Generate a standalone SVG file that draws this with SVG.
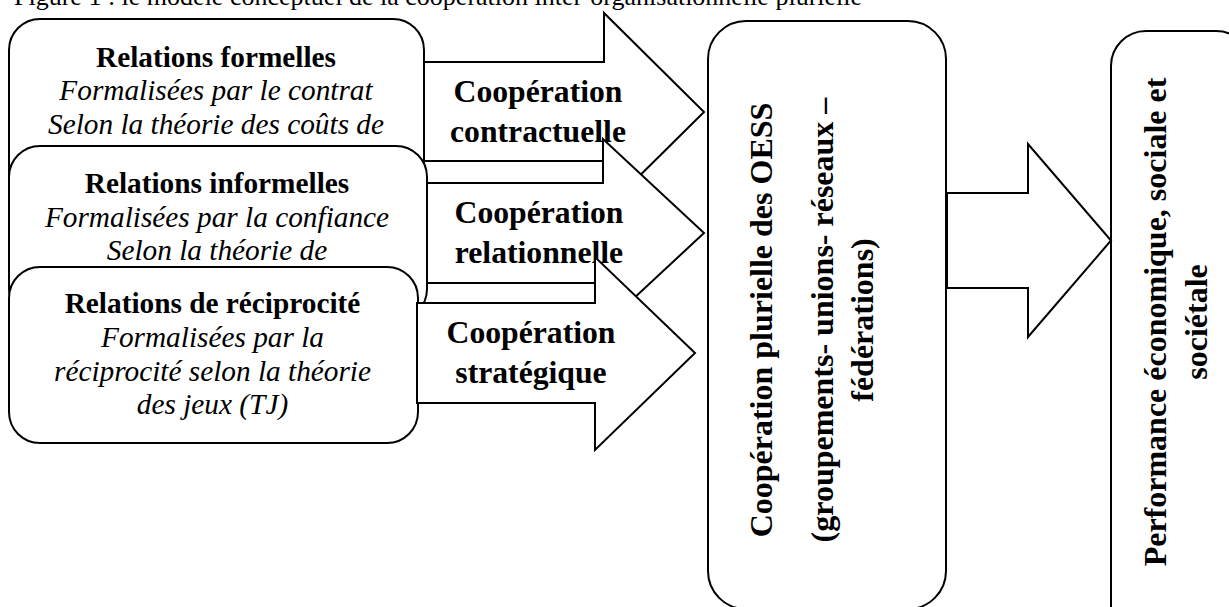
<svg xmlns="http://www.w3.org/2000/svg" width="1229" height="607" viewBox="0 0 1229 607">
<style>
.t{font-family:"Liberation Serif","Times New Roman",serif;fill:#000}
.b{font-weight:bold}
.i{font-style:italic}
.box{fill:#fff;stroke:#000;stroke-width:2}
.arr{fill:#fff;stroke:#000;stroke-width:2;stroke-linejoin:miter}
.s29{font-size:29.3px}
.s31{font-size:31.7px}
.s32{font-size:32px}
</style>
<rect width="1229" height="607" fill="#fff"/>
<text class="t" x="14" y="5" font-size="26px">Figure 1 : le modèle conceptuel de la coopération inter-organisationnelle plurielle</text>

<g id="box-formelles">
<rect class="box" x="9" y="19" width="415" height="190" rx="31"/>
<text class="t b s29" x="216" y="66.7" text-anchor="middle">Relations formelles</text>
<text class="t i s29" x="216" y="100" text-anchor="middle">Formalisées par le contrat</text>
<text class="t i s29" x="216" y="134" text-anchor="middle">Selon la théorie des coûts de</text>
</g>

<g id="box-informelles">
<rect class="box" x="9" y="146" width="418" height="174" rx="31"/>
<text class="t b s29" x="217" y="193" text-anchor="middle">Relations informelles</text>
<text class="t i s29" x="217" y="227" text-anchor="middle">Formalisées par la confiance</text>
<text class="t i s29" x="217" y="259.5" text-anchor="middle">Selon la théorie de</text>
</g>

<g id="box-reciprocite">
<rect class="box" x="9" y="267" width="409" height="176" rx="31"/>
<text class="t b s29" x="212.5" y="313" text-anchor="middle">Relations de réciprocité</text>
<text class="t i s29" x="212.5" y="347" text-anchor="middle">Formalisées par la</text>
<text class="t i s29" x="212.5" y="381" text-anchor="middle">réciprocité selon la théorie</text>
<text class="t i s29" x="212.5" y="414" text-anchor="middle">des jeux (TJ)</text>
</g>

<g id="box-cooperation-plurielle">
<rect class="box" x="708" y="21" width="238" height="588" rx="38"/>
<text class="t b s32" transform="translate(772,320) rotate(-90)" text-anchor="middle">Coopération plurielle des OESS</text>
<text class="t b s32" transform="translate(833,320) rotate(-90)" text-anchor="middle">(groupements- unions- réseaux –</text>
<text class="t b s32" transform="translate(873,320) rotate(-90)" text-anchor="middle">fédérations)</text>
</g>

<g id="box-performance">
<rect class="box" x="1111" y="31" width="140" height="610" rx="35"/>
<text class="t b s32" transform="translate(1166,322) rotate(-90)" text-anchor="middle">Performance économique, sociale et</text>
<text class="t b s32" transform="translate(1207,322) rotate(-90)" text-anchor="middle">sociétale</text>
</g>

<g id="connectors">
<g id="arrow-contractuelle">
<polygon class="arr" points="424,62 604,62 604,13 704,112 604,211 604,161 424,161"/>
<text class="t b s31" x="538" y="101.7" text-anchor="middle">Coopération</text>
<text class="t b s31" x="538" y="141.7" text-anchor="middle">contractuelle</text>
</g>
<g id="arrow-relationnelle">
<polygon class="arr" points="427,183 603,183 603,139 704,233 603,327 603,283 427,283"/>
<text class="t b s31" x="539" y="222.7" text-anchor="middle">Coopération</text>
<text class="t b s31" x="539" y="263" text-anchor="middle">relationnelle</text>
</g>
<g id="arrow-strategique">
<polygon class="arr" points="417,303 595,303 595,257 695,353 595,450 595,403 417,403"/>
<text class="t b s31" x="531" y="343" text-anchor="middle">Coopération</text>
<text class="t b s31" x="531" y="383" text-anchor="middle">stratégique</text>
</g>
<g id="arrow-performance">
<polygon class="arr" points="947,193 1028,193 1028,144 1111,240.5 1028,337 1028,288 947,288"/>
</g>
</g>
</svg>
